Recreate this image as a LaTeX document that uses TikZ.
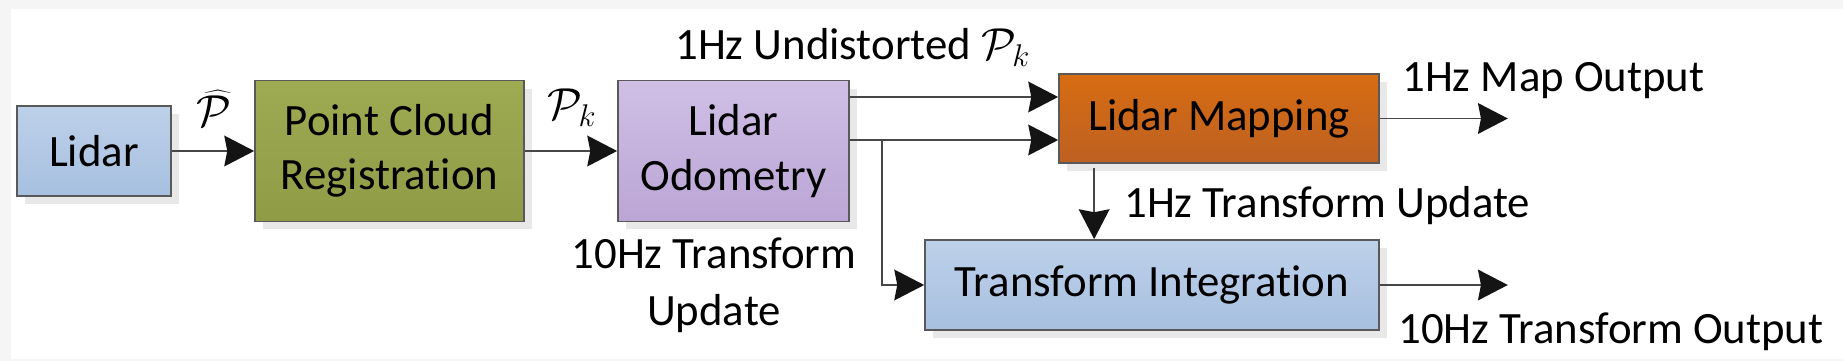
\documentclass[tikz,border=0pt]{standalone}
\usepackage{fix-cm}
\usepackage[no-math]{fontspec}
\setmainfont{Carlito}[Ligatures=NoCommon]
\usepackage{tikz}
\usetikzlibrary{arrows.meta,calc,shadows}

\definecolor{sensorTop}{RGB}{189,208,233}
\definecolor{sensorBot}{RGB}{167,192,224}
\definecolor{regTop}{RGB}{158,171,82}
\definecolor{regBot}{RGB}{144,155,70}
\definecolor{odoTop}{RGB}{207,191,229}
\definecolor{odoBot}{RGB}{187,165,213}
\definecolor{mapTop}{RGB}{215,109,18}
\definecolor{mapBot}{RGB}{189,96,34}

\begin{document}
\begin{tikzpicture}[x=0.02cm, y=-0.02cm,
    block/.style={draw=black!65, line width=1pt, align=center, inner sep=0pt,
        font=\fontsize{25.5}{31}\selectfont,
        drop shadow={shadow xshift=0.16cm, shadow yshift=-0.16cm, fill=black!9, opacity=1}},
    conn/.style={draw=black!72, line width=1pt,
        -{Stealth[length=17pt, width=17.5pt, inset=1.7pt, color=black!92]}},
    lbl/.style={font=\fontsize{25.5}{32}\selectfont, inner sep=0pt}
]
    % Frame
    \useasboundingbox (0,0) rectangle (1843,361);
    \fill[black!4] (0,0) rectangle (1843,361);
    \fill[white] (11,9) rectangle (1843,359);

    % Blocks
    \node[block, top color=sensorTop, bottom color=sensorBot, minimum width=3.08cm, minimum height=1.8cm] (lidar) at (94,151) {Lidar};
    \node[block, top color=regTop, bottom color=regBot, minimum width=5.38cm, minimum height=2.82cm] (pcr) at (389.5,151) {Point Cloud\\Registration};
    \node[block, top color=odoTop, bottom color=odoBot, minimum width=4.62cm, minimum height=2.82cm] (odom) at (733.5,151) {Lidar\\Odometry};
    \node[block, top color=mapTop, bottom color=mapBot, minimum width=6.4cm, minimum height=1.78cm] (mapping) at (1219,118.5) {Lidar Mapping};
    \node[block, top color=sensorTop, bottom color=sensorBot, minimum width=9.08cm, minimum height=1.8cm] (integ) at (1152,285) {Transform Integration};

    % Helper points
    \coordinate (mapin1) at ($(mapping.west)+(0,-21.5)$);
    \coordinate (mapin2) at ($(mapping.west)+(0,21.5)$);
    \coordinate (split) at ($(odom.east |- mapin2)+(32,0)$);
    \coordinate (down) at ($(mapping.south west)+(36,0)$);
    \coordinate (mapout) at ($(mapping.east)+(128,0)$);
    \coordinate (integout) at ($(integ.east)+(128,0)$);

    % Connectors
    \draw[conn] (lidar.east) -- (pcr.west);
    \draw[conn] (pcr.east) -- (odom.west);
    \draw[conn] (odom.east |- mapin1) -- (mapin1);
    \draw[conn] (odom.east |- mapin2) -- (mapin2);
    \draw[conn] (split) |- (integ.west);
    \draw[conn] ([yshift=-0.08cm]down) -- (down |- integ.north);
    \draw[conn] (mapping.east) -- (mapout);
    \draw[conn] (integ.east) -- (integout);

    % Labels
    \node[lbl] (phat) at (214,108) {$\widehat{\mathcal{P}}$};
    \node[lbl] (pk) at (572,108) {$\mathcal{P}_k$};
    \node[lbl, anchor=base west] (undist) at (675,60) {1Hz Undistorted $\mathcal{P}_k$};
    \node[lbl, anchor=base west] (mapoutlbl) at (1402,92) {1Hz Map Output};
    \node[lbl, anchor=base west] (slowupd) at (1124,218) {1Hz Transform Update};
    \node[lbl, anchor=base, align=center] (fastupd) at (714,325) {10Hz Transform\\Update};
    \node[lbl, anchor=base west] (fastout) at (1398,343) {10Hz Transform Output};

\end{tikzpicture}
\end{document}
